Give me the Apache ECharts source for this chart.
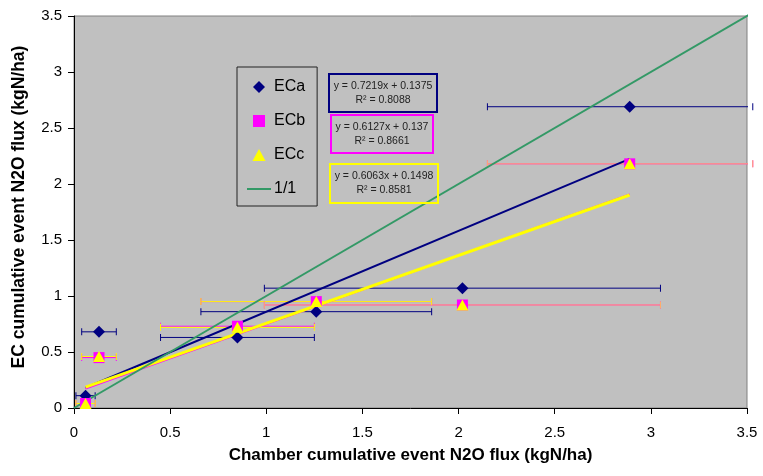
<!DOCTYPE html>
<html>
<head>
<meta charset="utf-8">
<script src="https://cdn.jsdelivr.net/npm/echarts@6/dist/echarts.min.js"></script>
<style>
html, body { margin: 0; background: #fff; }
#chart { width: 763px; height: 476px; }
</style>
</head>
<body>
<div id="chart"></div>
<script>
// chamber cumulative event flux (x) and its range, shown as horizontal error bars
const chamberFlux = [0.06, 0.13, 0.85, 1.26, 2.02, 2.89];
const chamberLow = [0.01, 0.04, 0.45, 0.66, 0.99, 2.15];
const chamberHigh = [0.11, 0.22, 1.25, 1.86, 3.05, 3.53];

// EC cumulative event flux for each system
const ecaFlux = [0.11, 0.68, 0.63, 0.86, 1.07, 2.69];
const ecbFlux = [0.04, 0.45, 0.73, 0.95, 0.92, 2.18];
const eccFlux = [0.04, 0.46, 0.72, 0.95, 0.92, 2.18];

// linear fits as printed on the chart
const fitNames = ['ECa', 'ECb', 'ECc'];
const fitSlope = [0.7219, 0.6127, 0.6063];
const fitIntercept = [0.1375, 0.137, 0.1498];
const fitR2 = ['0.8088', '0.8661', '0.8581'];

// 1:1 reference line end points
const oneToOne = [0, 3.53];

const NAVY = '#000080';
const MAGENTA = '#FF00FF';
const YELLOW = '#FFFF00';
const ORANGE = '#FFB366';
const GREEN = '#339966';
const FONT = 'Liberation Sans';

const chart = echarts.init(document.getElementById('chart'));

// horizontal error bars as a broken line; the end caps are the line's own symbols
const errorBars = (name, values, points, color) => {
    const data = [];
    points.forEach(i => {
        data.push([chamberLow[i], values[i]], [chamberHigh[i], values[i]], [chamberHigh[i], '-']);
    });
    return {
        type: 'line',
        name,
        z: 1,
        silent: true,
        clip: false,
        connectNulls: false,
        symbol: 'rect',
        symbolSize: [1, 7],
        showSymbol: true,
        data,
        lineStyle: { color, width: 1 },
        itemStyle: { color, borderWidth: 0 }
    };
};

const xMin = Math.min(...chamberFlux);
const xMax = Math.max(...chamberFlux);
const trend = (i, color, width, z) => ({
    type: 'line',
    name: fitNames[i] + ' fit',
    z,
    silent: true,
    symbol: 'none',
    data: [xMin, xMax].map(x => [x, fitSlope[i] * x + fitIntercept[i]]),
    lineStyle: { color, width }
});

// equation boxes (position, size, border colour)
const eqBoxes = [
    { x: 329, y: 74, w: 108, h: 38, color: NAVY },
    { x: 331, y: 115, w: 102, h: 38, color: MAGENTA },
    { x: 330, y: 164, w: 108, h: 39, color: YELLOW }
];
const eqGraphics = [];
eqBoxes.forEach((b, i) => {
    eqGraphics.push({
        type: 'rect',
        shape: { x: b.x, y: b.y, width: b.w, height: b.h },
        style: { fill: 'none', stroke: b.color, lineWidth: 2 },
        z: 100
    });
    eqGraphics.push({
        type: 'text',
        x: b.x + b.w / 2,
        y: b.y + b.h / 2,
        z: 101,
        style: {
            text: 'y = ' + fitSlope[i] + 'x + ' + fitIntercept[i] + '\nR\u00B2 = ' + fitR2[i],
            align: 'center',
            verticalAlign: 'middle',
            lineHeight: 14,
            font: '10.5px "' + FONT + '"',
            fill: '#222'
        }
    });
});

const axisCommon = {
    type: 'value',
    min: 0,
    max: 3.5,
    interval: 0.5,
    nameLocation: 'middle',
    nameTextStyle: { fontFamily: FONT, fontSize: 17, fontWeight: 'bold', color: '#000' },
    axisLine: { show: true, onZero: false, lineStyle: { color: '#000', width: 1 } },
    axisTick: { show: true, inside: false, length: 6, lineStyle: { color: '#000' } },
    splitLine: { show: false },
    axisLabel: { fontFamily: FONT, fontSize: 15, color: '#000' }
};

const option = {
    animation: false,
    backgroundColor: '#fff',
    textStyle: { fontFamily: FONT },
    grid: {
        left: 74, right: 16, top: 16, bottom: 68,
        show: true,
        backgroundColor: '#C0C0C0',
        borderColor: '#808080',
        borderWidth: 1,
        containLabel: false,
        outerBoundsMode: 'none'
    },
    xAxis: {
        ...axisCommon,
        name: 'Chamber cumulative event N2O flux (kgN/ha)',
        nameGap: 39,
        axisLabel: { ...axisCommon.axisLabel, margin: 17 }
    },
    yAxis: {
        ...axisCommon,
        name: 'EC cumulative event N2O flux (kgN/ha)',
        nameGap: 46,
        nameTextStyle: { ...axisCommon.nameTextStyle, fontSize: 17.5, padding: [0, 0, 0, 10] },
        axisLabel: { ...axisCommon.axisLabel, margin: 12 }
    },
    legend: {
        orient: 'vertical',
        left: 237,
        top: 67,
        padding: [12, 12, 9, 10],
        itemGap: 18,
        itemWidth: 24,
        itemHeight: 12,
        borderColor: '#222',
        borderWidth: 1,
        selectedMode: false,
        textStyle: { fontFamily: FONT, fontSize: 16, color: '#000', lineHeight: 16, padding: [0, 0, 0, -2] },
        data: [
            { name: 'ECa', icon: 'path://M6,0L12,6L6,12L0,6Z' },
            { name: 'ECb', icon: 'path://M0,0H11V11H0Z' },
            { name: 'ECc', icon: 'path://M6,0L12,11L0,11Z' },
            { name: '1/1', icon: 'path://M0,0H24V2H0Z' }
        ]
    },
    graphic: eqGraphics,
    series: [
        errorBars('ECa bars', ecaFlux, [0, 1, 2, 3, 4, 5], NAVY),
        errorBars('ECb bars', ecbFlux, [0, 1, 2, 3, 4, 5], MAGENTA),
        errorBars('ECc bars', eccFlux, [0, 1, 2, 3], YELLOW),
        errorBars('ECc bars wide', eccFlux, [4, 5], ORANGE),
        trend(0, NAVY, 2, 2),
        trend(1, MAGENTA, 2, 2),
        trend(2, YELLOW, 3, 2),
        {
            type: 'line',
            name: '1/1',
            z: 3,
            silent: true,
            symbol: 'none',
            clip: false,
            data: oneToOne.map(v => [v, v]),
            lineStyle: { color: GREEN, width: 2 },
            itemStyle: { color: GREEN }
        },
        {
            type: 'scatter',
            name: 'ECa',
            z: 5,
            symbol: 'diamond',
            symbolSize: 12,
            data: chamberFlux.map((x, i) => [x, ecaFlux[i]]),
            itemStyle: { color: NAVY, opacity: 1 }
        },
        {
            type: 'scatter',
            name: 'ECb',
            z: 5,
            symbol: 'rect',
            symbolSize: 11,
            data: chamberFlux.map((x, i) => [x, ecbFlux[i]]),
            itemStyle: { color: MAGENTA, opacity: 1 }
        },
        {
            type: 'scatter',
            name: 'ECc',
            z: 5,
            symbol: 'triangle',
            symbolSize: [12, 11],
            data: chamberFlux.map((x, i) => [x, eccFlux[i]]),
            itemStyle: { color: YELLOW, opacity: 1 }
        }
    ]
};

chart.setOption(option);
</script>
</body>
</html>
